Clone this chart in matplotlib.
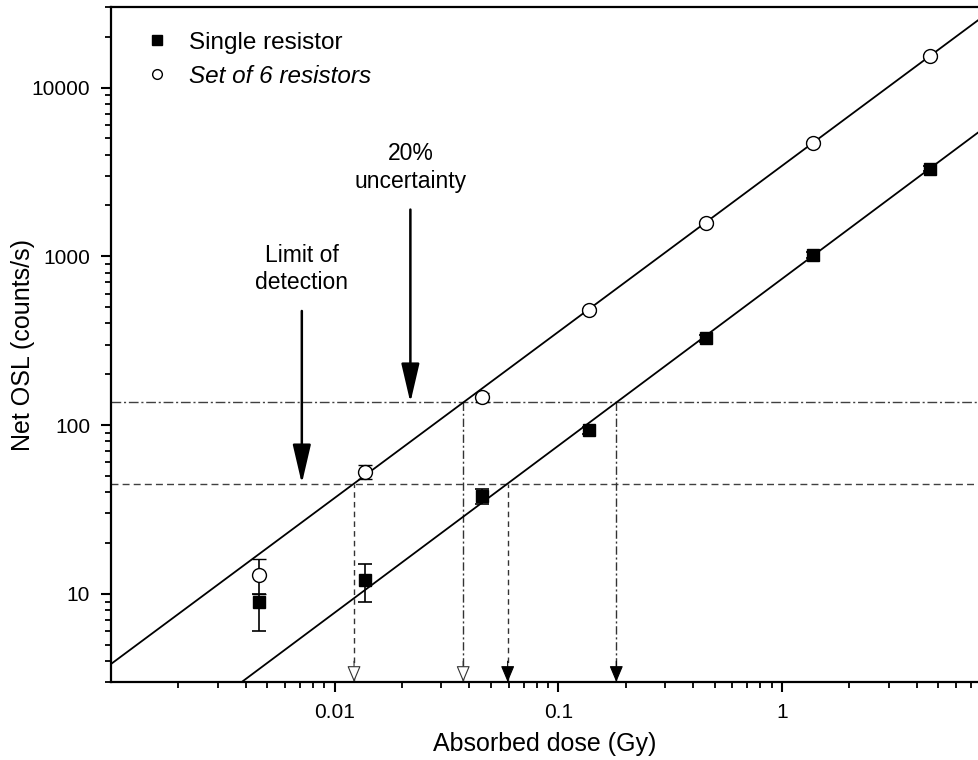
import numpy as np
import matplotlib
matplotlib.use("Agg")
import matplotlib.pyplot as plt
from matplotlib.lines import Line2D
from matplotlib.ticker import LogLocator, NullFormatter, FixedLocator, FixedFormatter

plt.rcParams['font.family'] = ['Liberation Sans', 'DejaVu Sans']

# --- data ---
dose = [0.00457, 0.0137, 0.0457, 0.137, 0.457, 1.37, 4.57]

single = [9.0, 12.0, 38.0, 93.0, 327.0, 1018.0, 3300.0]
single_err_lo = [3.0, 3.0, 4.0, 5.0, 15.0, 40.0, 120.0]
single_err_hi = [1.0, 3.0, 4.0, 5.0, 15.0, 40.0, 120.0]

set6 = [13.0, 53.0, 146.0, 480.0, 1578.0, 4720.0, 15300.0]
set6_err = [3.0, 5.0, 9.0, 15.0, 40.0, 120.0, 400.0]

# power-law fits y = a * x**b
fit_single = (735.0, 0.989)
fit_set6 = (3436.0, 0.984)

# thresholds
lod_level = 45.0          # limit of detection
unc_level = 136.0         # 20% uncertainty

xlim = (0.001, 7.6)
ylim = (3.0, 30000.0)


def crossing(fit, level):
    a, b = fit
    return (level / a) ** (1.0 / b)


fig = plt.figure(figsize=(9.79, 7.6), dpi=100)
ax = fig.add_axes([0.1134, 0.1026, 0.8866, 0.8882])
ax.set_xscale('log')
ax.set_yscale('log')
ax.set_xlim(*xlim)
ax.set_ylim(*ylim)

# fit lines
xs = np.logspace(np.log10(xlim[0]), np.log10(xlim[1]), 200)
for a, b in (fit_set6, fit_single):
    ax.plot(xs, a * xs ** b, color='black', lw=1.3, zorder=2)

# threshold lines
ax.axhline(lod_level, color='0.25', lw=1.0, ls=(0, (5, 3)), zorder=1)
ax.axhline(unc_level, color='0.25', lw=1.0, ls=(0, (7, 2, 1.5, 2)), zorder=1)

# vertical drop lines with arrows
drops = [
    (fit_set6, lod_level, (0, (4, 3)), 'white'),
    (fit_set6, unc_level, (0, (6, 2, 1.5, 2)), 'white'),
    (fit_single, lod_level, (0, (4, 3)), 'black'),
    (fit_single, unc_level, (0, (6, 2, 1.5, 2)), 'black'),
]
for fit, level, ls, fc in drops:
    xc = crossing(fit, level)
    ax.plot([xc, xc], [ylim[0], level], color='0.2', lw=1.0, ls=ls, zorder=1)
    ax.annotate('', xy=(xc, ylim[0]), xytext=(0, 15), textcoords='offset points',
                arrowprops=dict(arrowstyle='-|>,head_length=1.0,head_width=0.42',
                                fc=fc, ec='0.2' if fc == 'white' else 'black',
                                lw=0.8, shrinkA=0, shrinkB=0), zorder=3)

# data points
ax.errorbar(dose, single, yerr=[single_err_lo, single_err_hi], fmt='s', color='black',
            ms=9, capsize=5, elinewidth=1.2, capthick=1.2, zorder=4)
ax.errorbar(dose, set6, yerr=set6_err, fmt='o', mfc='white', mec='black', ecolor='black',
            ms=10, mew=1.0, capsize=5, elinewidth=1.2, capthick=1.2, zorder=4)

# annotation arrows
arrow_kw = dict(arrowstyle='-|>,head_length=1.2,head_width=0.28', color='black',
                lw=1.8, mutation_scale=20, shrinkA=10, shrinkB=0)
ax.annotate('Limit of\ndetection', xy=(0.00713, lod_level), xytext=(0.00713, 840),
            ha='center', va='center', fontsize=16.5, linespacing=1.25, arrowprops=arrow_kw)
ax.annotate('20%\nuncertainty', xy=(0.0218, unc_level), xytext=(0.0218, 3350),
            ha='center', va='center', fontsize=16.5, linespacing=1.25, arrowprops=arrow_kw)

# axes styling
for side in ('left', 'bottom', 'top'):
    ax.spines[side].set_linewidth(1.6)
ax.spines['right'].set_visible(False)

ax.xaxis.set_major_locator(FixedLocator([0.01, 0.1, 1]))
ax.xaxis.set_major_formatter(FixedFormatter(['0.01', '0.1', '1']))
ax.xaxis.set_minor_locator(LogLocator(base=10, subs=np.arange(2, 10)))
ax.xaxis.set_minor_formatter(NullFormatter())
ax.yaxis.set_major_locator(FixedLocator([10, 100, 1000, 10000]))
ax.yaxis.set_major_formatter(FixedFormatter(['10', '100', '1000', '10000']))
ax.yaxis.set_minor_locator(LogLocator(base=10, subs=np.arange(2, 10)))
ax.yaxis.set_minor_formatter(NullFormatter())

ax.tick_params(which='major', direction='out', length=7, width=1.5, labelsize=15, pad=8)
ax.tick_params(which='minor', direction='out', length=4.5, width=1.3)
ax.tick_params(top=False, right=False, which='both')

ax.set_xlabel('Absorbed dose (Gy)', fontsize=18, labelpad=7)
ax.set_ylabel('Net OSL (counts/s)', fontsize=18)
ax.yaxis.set_label_coords(-0.088, 0.5)

handles = [
    Line2D([], [], ls='', marker='s', ms=7, color='black'),
    Line2D([], [], ls='', marker='o', ms=7, mfc='white', mec='black', mew=1.0),
]
leg = ax.legend(handles, ['Single resistor', 'Set of 6 resistors'], loc='upper left',
                bbox_to_anchor=(0.031, 0.974), frameon=False, fontsize=17.5,
                handlelength=1.0, handletextpad=0.8, labelspacing=0.45,
                borderaxespad=0.0, borderpad=0.3)
leg.get_texts()[1].set_fontstyle('italic')

fig.savefig('out.png', dpi=100)
